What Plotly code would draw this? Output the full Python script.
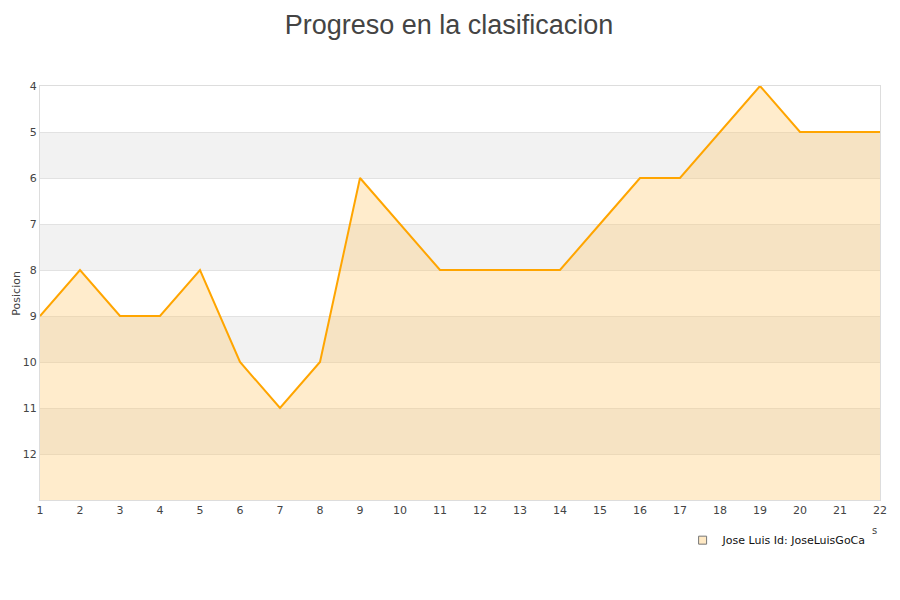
import plotly.graph_objects as go

jornadas = list(range(1, 23))
posiciones = [9, 8, 9, 9, 8, 10, 11, 10, 6, 7, 8, 8, 8, 8, 7, 6, 6, 5, 4, 5, 5, 5]
serie = "Jose Luis Id: JoseLuisGoCa"
y_ticks = list(range(4, 13))
y_min, y_max = 4, 13

fig = go.Figure()
fig.add_trace(go.Scatter(x=jornadas, y=[y_max] * len(jornadas), mode="lines",
                         line=dict(width=0), showlegend=False, hoverinfo="skip"))
fig.add_trace(go.Scatter(x=jornadas, y=posiciones, mode="lines", name=serie,
                         fill="tonexty", fillcolor="rgba(255,200,110,0.35)",
                         line=dict(color="#FFA500", width=2), showlegend=False))
fig.add_trace(go.Scatter(x=[None], y=[None], mode="markers", name=serie,
                         marker=dict(symbol="square", size=8, color="#FFE9C4",
                                     line=dict(color="#777", width=1))))

shapes = []
for b in [5, 7, 9, 11]:
    shapes.append(dict(type="rect", xref="paper", yref="y", x0=0, x1=1, y0=b, y1=b + 1,
                       fillcolor="#F2F2F2", line=dict(width=0), layer="below"))

fig.update_layout(
    width=900, height=600,
    paper_bgcolor="white", plot_bgcolor="white",
    margin=dict(l=32, r=28, t=78, b=108, autoexpand=False),
    title=dict(text="Progreso en la clasificacion", x=0.49, xanchor="center", y=0.988, yanchor="top",
               font=dict(family="Liberation Sans, Arial", size=27, color="#444")),
    font=dict(family="DejaVu Sans, Arial", size=11, color="#444"),
    shapes=shapes,
    showlegend=True,
    legend=dict(x=0.765, y=-0.062, xanchor="left", yanchor="top", bgcolor="rgba(0,0,0,0)",
                font=dict(size=11, color="#111"), itemwidth=30),
    xaxis=dict(range=[1, 22], tickmode="array", tickvals=jornadas, showgrid=False,
               showline=True, linecolor="#ddd", mirror=True, zeroline=False, ticks="",
               automargin=False, tickfont=dict(size=11, color="#444")),
    yaxis=dict(range=[y_max, y_min], tickmode="array", tickvals=y_ticks,
               showgrid=True, gridcolor="#e2e2e2", showline=True, linecolor="#ddd", mirror=True,
               zeroline=False, ticks="", automargin=False,
               tickfont=dict(size=11, color="#444")),
)
fig.add_annotation(text="Posicion", xref="paper", yref="paper", x=-0.029, y=0.5, textangle=-90,
                   xanchor="center", yanchor="middle", showarrow=False,
                   font=dict(size=11, color="#444"))
fig.add_annotation(text="s", xref="paper", yref="paper", x=0.994, y=-0.074, showarrow=False,
                   xanchor="center", yanchor="middle",
                   font=dict(size=10, color="#444"))

fig.write_html("out.html")
